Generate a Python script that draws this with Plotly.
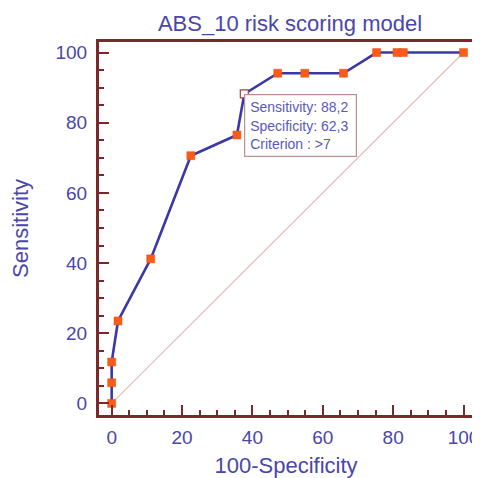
import plotly.graph_objects as go

# ROC points
fpr = [0, 0, 0, 1.8, 11.1, 22.5, 35.6, 37.7, 47.2, 54.9, 65.9, 75.3, 81.1, 82.9, 100]
tpr = [0, 5.9, 11.8, 23.5, 41.2, 70.6, 76.5, 88.2, 94.1, 94.1, 94.1, 100, 100, 100, 100]
best_idx = 7
diag = [0, 100]
tick_vals = [0, 20, 40, 60, 80, 100]
title = "ABS_10 risk scoring model"
x_title = "100-Specificity"
y_title = "Sensitivity"
tip_lines = ["Sensitivity: 88,2", "Specificity: 62,3", "Criterion : >7"]

BLUE_TXT = "#4a46aa"
MAROON = "#7a2828"
FONT = "Liberation Sans, Arial, sans-serif"

# the page body adds an 8px offset, so the figure is sized to fit the window
W, H = 472, 470

fig = go.Figure()
fig.add_trace(go.Scatter(x=diag, y=diag, mode="lines",
                         line=dict(color="#e4bcbc", width=1.2), hoverinfo="skip"))
fig.add_trace(go.Scatter(x=fpr, y=tpr, mode="lines",
                         line=dict(color="#3a38a6", width=2.6)))
other_x = [v for i, v in enumerate(fpr) if i != best_idx]
other_y = [v for i, v in enumerate(tpr) if i != best_idx]
fig.add_trace(go.Scatter(x=other_x, y=other_y, mode="markers",
                         marker=dict(symbol="square", size=8, color="#fa5c16",
                                     line=dict(color="#e8501a", width=0.5))))
fig.add_trace(go.Scatter(x=[fpr[best_idx]], y=[tpr[best_idx]], mode="markers",
                         marker=dict(symbol="square", size=8, color="white",
                                     line=dict(color="#a84040", width=1.2))))

fig.add_annotation(x=fpr[best_idx], y=tpr[best_idx], xref="x", yref="y",
                   text="<br>".join(tip_lines), showarrow=False,
                   xanchor="left", yanchor="top", align="left",
                   font=dict(family=FONT, size=14, color="#5a58b8"),
                   bgcolor="white", bordercolor="#b89090", borderwidth=1.2,
                   borderpad=5, width=101, height=51)

axis_common = dict(
    showgrid=False, zeroline=False, showline=True, mirror=True,
    linecolor=MAROON, linewidth=3, automargin=False,
    ticks="inside", ticklen=10, tickwidth=2, tickcolor=MAROON,
    tickvals=tick_vals,
    minor=dict(dtick=5, tick0=0, ticks="inside", ticklen=5, tickwidth=1.5, tickcolor=MAROON),
    tickfont=dict(family=FONT, size=19, color=BLUE_TXT),
)

fig.update_layout(
    width=W, height=H,
    margin=dict(l=91, r=7, t=34, b=63),
    paper_bgcolor="white", plot_bgcolor="white",
    showlegend=False,
    title=dict(text=title, x=282 / W, xanchor="center", y=1 - 15 / H, yanchor="middle",
               font=dict(family=FONT, size=22, color=BLUE_TXT)),
    xaxis=dict(range=[-3.6, 102.7], ticklabelstandoff=3,
               title=dict(text=x_title, standoff=12,
                          font=dict(family=FONT, size=22, color=BLUE_TXT)), **axis_common),
    yaxis=dict(range=[-3.3, 103.0], ticklabelstandoff=5,
               title=dict(text=y_title, standoff=22,
                          font=dict(family=FONT, size=22, color=BLUE_TXT)), **axis_common),
)

fig.write_html("out.html")
